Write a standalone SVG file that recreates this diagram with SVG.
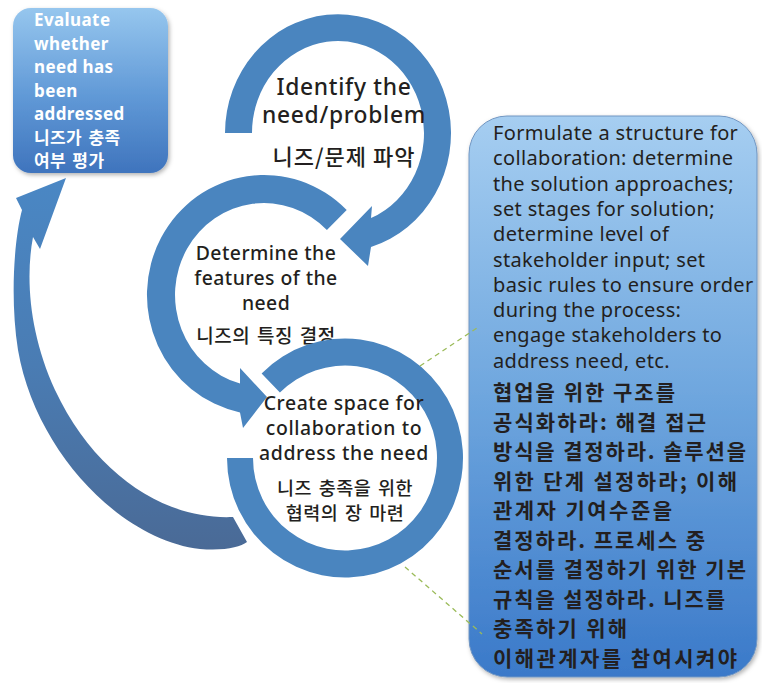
<svg xmlns="http://www.w3.org/2000/svg" width="762" height="683" viewBox="0 0 762 683">
<defs>
<linearGradient id="gBoxL" x1="0" y1="0" x2="0" y2="1"><stop offset="0" stop-color="#96c6ee"/><stop offset="0.55" stop-color="#5f98d6"/><stop offset="1" stop-color="#3f74bd"/></linearGradient>
<linearGradient id="gBoxR" x1="0" y1="0" x2="0" y2="1"><stop offset="0" stop-color="#a6cef1"/><stop offset="0.5" stop-color="#6ea6de"/><stop offset="1" stop-color="#3a79c9"/></linearGradient>
<linearGradient id="gBig" gradientUnits="userSpaceOnUse" x1="0" y1="180" x2="0" y2="550"><stop offset="0" stop-color="#4a87c4"/><stop offset="0.5" stop-color="#4a7cb3"/><stop offset="1" stop-color="#4a6a96"/></linearGradient>
<filter id="sh" x="-10%" y="-10%" width="125%" height="125%"><feDropShadow dx="1.5" dy="2" stdDeviation="2" flood-color="#000" flood-opacity="0.3"/></filter>
</defs>
<style>
.ring{fill:#4a85bf}
.en{font-family:"Noto Sans","Noto Sans CJK KR",sans-serif;fill:#231f20}
.ko{font-family:"Noto Sans CJK KR","Noto Sans",sans-serif;fill:#231f20}
.m{font-weight:500}
.c{text-anchor:middle}
.wt{font-family:"Noto Sans","Noto Sans CJK KR",sans-serif;font-weight:bold;fill:#ffffff;font-size:17px;letter-spacing:0.4px}
.wk{font-family:"Noto Sans CJK KR","Noto Sans",sans-serif;word-spacing:2px}
.r1{font-size:22.8px;letter-spacing:0.7px}
.r2{font-size:19.4px;letter-spacing:0.45px}
.r3{font-size:19.4px;letter-spacing:0.6px}
.bx{font-size:20px;letter-spacing:0.35px}
.bk{font-size:21px;font-weight:bold}
.dash{fill:none;stroke:#9bbb59;stroke-width:1.3;stroke-dasharray:5 4}
</style>

<g id="node-evaluate">
<rect x="13" y="8" width="155" height="165" rx="18" fill="url(#gBoxL)" filter="url(#sh)"/>
<text class="wt" x="34" y="26">Evaluate</text>
<text class="wt" x="34" y="49.5">whether</text>
<text class="wt" x="34" y="73">need has</text>
<text class="wt" x="34" y="96.5">been</text>
<text class="wt" x="34" y="120">addressed</text>
<text class="wt wk" x="34" y="143.5">니즈가 충족</text>
<text class="wt wk" x="34" y="167">여부 평가</text>
</g>

<g id="node-identify">
<path class="ring" d="M225,133 A113,119 0 1 1 371,247 L368,266 L340,239 L372,206 L371,218 A86,92 0 1 0 252,133 Z"/>
<text class="en m c r1" x="344" y="95">Identify the</text>
<text class="en m c r1" x="344" y="123">need/problem</text>
<text class="ko m c" x="344" y="165" font-size="22" letter-spacing="1">니즈/문제 파악</text>
</g>

<g id="node-determine">
<path class="ring" d="M346.7,210.1 A117,120 0 1 0 240,412.4 L243,428 L267,397 L240,368 L240,383.6 A89,92 0 1 1 326.9,229.9 Z"/>
<text class="en m c r2" x="266" y="260">Determine the</text>
<text class="en m c r2" x="266" y="285">features of the</text>
<text class="en m c r2" x="266" y="310">need</text>
<text class="ko m c" x="266" y="343" font-size="19" letter-spacing="0.5" word-spacing="2">니즈의 특징 결정</text>
</g>

<g id="node-create">
<path class="ring" d="M261.6,373.5 A118,119.5 0 1 1 227,458 L253,458 A92,92.5 0 1 0 279.9,392.6 Z"/>
<text class="en m c r3" x="344" y="410">Create space for</text>
<text class="en m c r3" x="344" y="435">collaboration to</text>
<text class="en m c r3" x="344" y="460">address the need</text>
<text class="ko m c" x="345" y="495" font-size="18.5" letter-spacing="0.5" word-spacing="2">니즈 충족을 위한</text>
<text class="ko m c" x="345" y="520" font-size="18.5" letter-spacing="0.5" word-spacing="2">협력의 장 마련</text>
</g>

<g id="node-formulate">
<rect x="469" y="116" width="288" height="561" rx="38" fill="url(#gBoxR)" stroke="#7196c2" stroke-width="1" filter="url(#sh)"/>
<text class="en bx" x="493" y="140">Formulate a structure for</text>
<text class="en bx" x="493" y="165.3">collaboration: determine</text>
<text class="en bx" x="493" y="190.6">the solution approaches;</text>
<text class="en bx" x="493" y="215.9">set stages for solution;</text>
<text class="en bx" x="493" y="241.2">determine level of</text>
<text class="en bx" x="493" y="266.5">stakeholder input; set</text>
<text class="en bx" x="493" y="291.8">basic rules to ensure order</text>
<text class="en bx" x="493" y="317.1">during the process:</text>
<text class="en bx" x="493" y="342.4">engage stakeholders to</text>
<text class="en bx" x="493" y="367.7">address need, etc.</text>
<text class="ko bk" x="493" y="400" textLength="182" lengthAdjust="spacing">협업을 위한 구조를</text>
<text class="ko bk" x="493" y="429.5" textLength="213" lengthAdjust="spacing">공식화하라: 해결 접근</text>
<text class="ko bk" x="493" y="459" textLength="253" lengthAdjust="spacing">방식을 결정하라. 솔루션을</text>
<text class="ko bk" x="493" y="488.5" textLength="244" lengthAdjust="spacing">위한 단계 설정하라; 이해</text>
<text class="ko bk" x="493" y="518" textLength="179" lengthAdjust="spacing">관계자 기여수준을</text>
<text class="ko bk" x="493" y="547.5" textLength="212" lengthAdjust="spacing">결정하라. 프로세스 중</text>
<text class="ko bk" x="493" y="577" textLength="253" lengthAdjust="spacing">순서를 결정하기 위한 기본</text>
<text class="ko bk" x="493" y="606.5" textLength="232" lengthAdjust="spacing">규칙을 설정하라. 니즈를</text>
<text class="ko bk" x="493" y="636" textLength="134" lengthAdjust="spacing">충족하기 위해</text>
<text class="ko bk" x="493" y="665.5" textLength="244" lengthAdjust="spacing">이해관계자를 참여시켜야</text>
</g>

<g id="connectors">
<path fill="url(#gBig)" d="M233,517 C165,520 95,475 55,390 C30,335 25,280 33,237 L40,249 L66,178 L16,198 L22,210 C14,240 10,300 18,350 C35,450 120,540 200,549 C225,551 240,547 247,542 Z"/>
<line class="dash" x1="420" y1="366" x2="480" y2="326"/>
<line class="dash" x1="405" y1="567" x2="482" y2="634"/>
</g>
</svg>
